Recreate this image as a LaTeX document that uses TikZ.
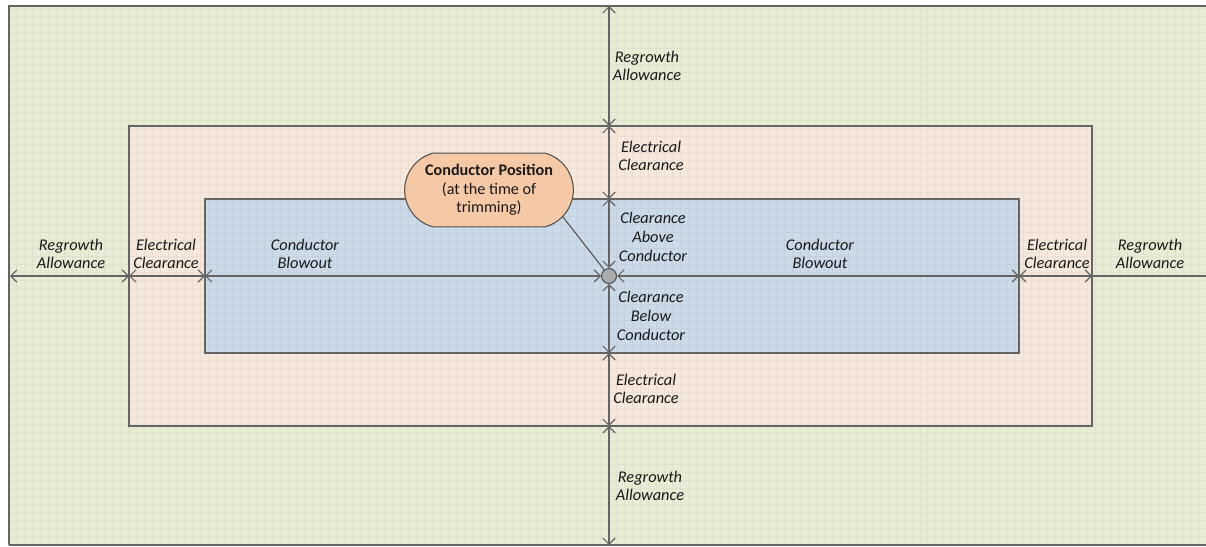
\documentclass[tikz,border=0pt]{standalone}
\usepackage{fontspec}
\setmainfont{Carlito}
\usepackage{tikz}
\usetikzlibrary{arrows.meta,shapes.misc}

\definecolor{regrowth}{RGB}{231,236,213}
\definecolor{clearance}{RGB}{246,232,219}
\definecolor{blowout}{RGB}{203,218,232}
\definecolor{calloutfill}{RGB}{246,201,166}
\definecolor{edge}{RGB}{100,100,100}
\definecolor{ink}{RGB}{25,25,25}

\tikzset{
    zone/.style={draw=edge, line width=.6pt},
    dim/.style={draw=edge, line width=.7pt, <->, >={Straight Barb[length=3.5pt,width=7pt]}},
    lbl/.style={align=center, font=\fontsize{9.3}{10.6}\selectfont\itshape, text=ink, inner sep=0pt},
    callout/.style={rounded rectangle, rounded rectangle arc length=150, draw=edge!80!black, fill=calloutfill, line width=.6pt,
        minimum width=100pt, minimum height=42pt, align=center, inner sep=2pt,
        font=\fontsize{9.2}{10.6}\selectfont, text=ink}
}

\begin{document}
\begin{tikzpicture}[x=0.02cm,y=-0.02cm]
    	\useasboundingbox (0,0) rectangle (1206,547);

    	\fill[regrowth] (9,6) rectangle (1215,545);
    	\fill[clearance] (129,126) rectangle (1092,426);
    	\fill[blowout] (205,199) rectangle (1019,353);
    	\begin{scope}
    		\clip (9,6) rectangle (1206,545);
    		\draw[black, opacity=.04, line width=.4pt, step=0.16cm] (0,0) grid (1210,550);
    	\end{scope}
    	\draw[zone] (9,545) -- (9,6) -- (1215,6);
    	\draw[zone] (9,545) -- (1215,545);
    	\draw[zone] (129,126) rectangle (1092,426);
    	\draw[zone] (205,199) rectangle (1019,353);

    	% end points on the two axes
    	\foreach \n/\y in {a/6, b/126, c/199, d/353, e/426, f/545}
    		\coordinate (v\n) at (609,\y);
    	\foreach \n/\x in {a/10, b/129, c/205, d/1019, e/1092, f/1206}
    		\coordinate (h\n) at (\x,276);

    	\node[circle, draw=edge!80!black, fill=black!33, line width=.6pt, minimum size=15pt*0.567, inner sep=0pt] (cond) at (609,276) {};

    	\draw[dim] (va) -- (vb);
    	\draw[dim] (vb) -- (vc);
    	\draw[dim] (vc) -- (cond);
    	\draw[dim] (cond) -- (vd);
    	\draw[dim] (vd) -- (ve);
    	\draw[dim] (ve) -- (vf);

    	\draw[dim] (ha) -- (hb);
    	\draw[dim] (hb) -- (hc);
    	\draw[dim] (hc) -- (cond);
    	\draw[dim] (cond) -- (hd);
    	\draw[dim] (hd) -- (he);
    	\draw[dim, -] (he) -- (hf);

    	\node[lbl] (rgtop) at (647,66) {Regrowth\\Allowance};
    	\node[lbl] (ectop) at (651,156) {Electrical\\Clearance};
    	\node[lbl] (above) at (653,237) {Clearance\\Above\\Conductor};
    	\node[lbl] (below) at (651,316) {Clearance\\Below\\Conductor};
    	\node[lbl] (ecbot) at (646,389) {Electrical\\Clearance};
    	\node[lbl] (rgbot) at (650,486) {Regrowth\\Allowance};

    	\node[lbl] (rgleft) at (71,254) {Regrowth\\Allowance};
    	\node[lbl] (ecleft) at (166,254) {Electrical\\Clearance};
    	\node[lbl] (boleft) at (305,254) {Conductor\\Blowout};
    	\node[lbl] (boright) at (820,254) {Conductor\\Blowout};
    	\node[lbl] (ecright) at (1057,254) {Electrical\\Clearance};
    	\node[lbl] (rgright) at (1150,254) {Regrowth\\Allowance};

    	\node[callout] (pos) at (489,190) {\textbf{Conductor Position}\\(at the time of\\trimming)};
    	\draw[edge!80!black, line width=.6pt] (pos.-20) -- (cond);

\end{tikzpicture}
\end{document}
